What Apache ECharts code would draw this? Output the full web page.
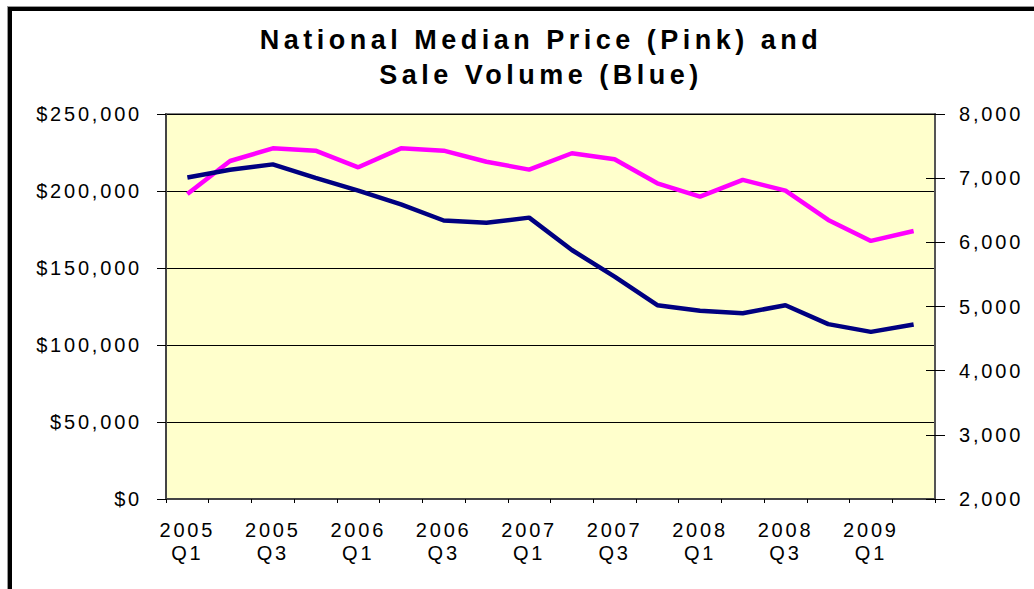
<!DOCTYPE html>
<html>
<head>
<meta charset="utf-8">
<script src="https://cdn.jsdelivr.net/npm/echarts@6/dist/echarts.min.js"></script>
<style>
  html, body { margin: 0; padding: 0; background: #fff; overflow: hidden; }
  #chart { position: absolute; left: 0; top: 0; width: 1034px; height: 589px; }
  /* the frame round the chart, cut by the window on the right and bottom */
  #frame {
    position: absolute; left: 8px; top: 7px; width: 1100px; height: 700px;
    border-left: 4px solid #000; border-top: 4px solid #000;
    box-shadow: -1px -1px 0 #999; pointer-events: none;
  }
  #chart text { letter-spacing: 2.8px; }
  #chart text[style*="bold"] { letter-spacing: 4.5px; }
</style>
</head>
<body>
<div id="chart"></div>
<div id="frame"></div>
<script>
const quarters = [
  '2005\nQ1', '2005\nQ2', '2005\nQ3', '2005\nQ4',
  '2006\nQ1', '2006\nQ2', '2006\nQ3', '2006\nQ4',
  '2007\nQ1', '2007\nQ2', '2007\nQ3', '2007\nQ4',
  '2008\nQ1', '2008\nQ2', '2008\nQ3', '2008\nQ4',
  '2009\nQ1', '2009\nQ2'
]
const medianPrice = [198000, 219500, 227700, 226200, 215400, 227700, 226200, 219000, 213900,
  224500, 220600, 205000, 196300, 207200, 200200, 181200, 167600, 174000]
const saleVolume = [7010, 7130, 7215, 7005, 6805, 6590, 6340, 6305, 6385,
  5880, 5465, 5020, 4935, 4895, 5020, 4725, 4605, 4720]
const priceAxis = { min: 0, max: 250000, step: 50000 }
const volumeAxis = { min: 2000, max: 8000, step: 1000 }

const font = '"Liberation Sans", Arial, sans-serif'
const fmt = v => v.toString().replace(/\B(?=(\d{3})+(?!\d))/g, ',')

let chart = echarts.init(document.getElementById('chart'), null, { renderer: 'svg' })
chart.setOption({
  animation: false,
  textStyle: { fontFamily: font, color: '#000' },
  title: {
    text: 'National Median Price (Pink) and\nSale Volume (Blue)',
    left: 536,
    top: 17,
    textAlign: 'center',
    textStyle: { fontSize: 27, fontWeight: 'bold', lineHeight: 35, color: '#000', fontFamily: font }
  },
  grid: {
    left: 166, top: 114, width: 769, height: 385,
    show: true, backgroundColor: '#FFFFCC', borderColor: '#808080', borderWidth: 2
  },
  xAxis: {
    type: 'category',
    data: quarters,
    boundaryGap: true,
    axisLine: { lineStyle: { color: '#444', width: 2 } },
    axisTick: { show: true, length: 4, interval: 0, lineStyle: { color: '#000' } },
    axisLabel: { interval: 1, margin: 19, fontSize: 20, lineHeight: 23, color: '#000', fontFamily: font }
  },
  yAxis: [
    {
      type: 'value',
      min: priceAxis.min, max: priceAxis.max, interval: priceAxis.step,
      axisLine: { show: true, lineStyle: { color: '#444', width: 2 } },
      axisTick: { show: true, length: 9, lineStyle: { color: '#000' } },
      axisLabel: { margin: 24, fontSize: 20, color: '#000', fontFamily: font, formatter: v => '$' + fmt(v) },
      splitLine: { show: true, lineStyle: { color: '#000', width: 1 } }
    },
    {
      type: 'value',
      position: 'right',
      min: volumeAxis.min, max: volumeAxis.max, interval: volumeAxis.step,
      axisLine: { show: true, lineStyle: { color: '#555', width: 2 } },
      axisTick: { show: true, length: 10, lineStyle: { color: '#000' } },
      axisLabel: { margin: 24, fontSize: 20, color: '#000', fontFamily: font, formatter: v => fmt(v) },
      splitLine: { show: false }
    },
    {
      // inner half of the crossing ticks on the right axis
      type: 'value',
      position: 'right',
      min: volumeAxis.min, max: volumeAxis.max, interval: volumeAxis.step,
      axisLine: { show: false },
      axisTick: { show: true, inside: true, length: 9, lineStyle: { color: '#000' } },
      axisLabel: { show: false },
      splitLine: { show: false }
    }
  ],
  series: [
    {
      name: 'Median Price',
      type: 'line',
      data: medianPrice,
      yAxisIndex: 0,
      symbol: 'none',
      lineStyle: { color: '#FF00FF', width: 4.5 }
    },
    {
      name: 'Sale Volume',
      type: 'line',
      data: saleVolume,
      yAxisIndex: 1,
      symbol: 'none',
      lineStyle: { color: '#000080', width: 4.5 }
    }
  ]
})
</script>
</body>
</html>
